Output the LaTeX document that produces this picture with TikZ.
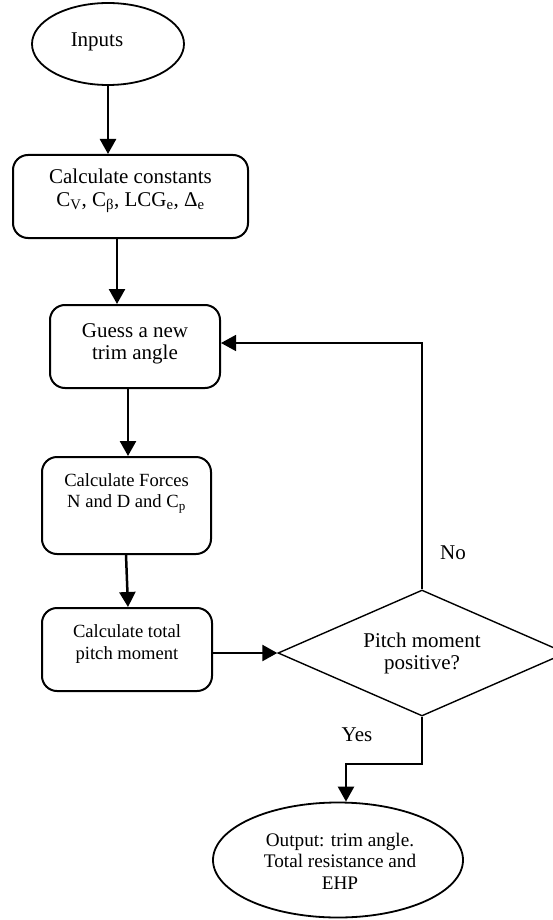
\documentclass[tikz,border=0pt]{standalone}
\usepackage{fontspec}
\setmainfont{Liberation Serif}
\usetikzlibrary{shapes.geometric,arrows.meta}
\tikzset{
  every node/.style={inner sep=0pt},
  oval/.style={draw,ellipse,line width=1.8pt},
  rbox/.style={draw,rectangle,rounded corners=15pt,line width=2pt},
  dia/.style={draw,diamond,line width=1.4pt},
  arr/.style={line width=2.5pt,-{Triangle[length=15pt,width=16pt]}},
  farr/.style={line width=1.6pt,-{Triangle[length=15pt,width=16pt]}},
  thinline/.style={line width=1.5pt},
  big/.style={font=\fontsize{21}{22.5}\selectfont,align=center},
  mid/.style={font=\fontsize{18.6}{21.5}\selectfont,align=center},
  outf/.style={font=\fontsize{19.2}{21.5}\selectfont,align=center},
}
\begin{document}
\begin{tikzpicture}[x=1pt,y=-1pt]
\useasboundingbox (0,0) rectangle (553,920);
% shapes
\node[oval,minimum width=152pt,minimum height=82pt] (inputs) at (108,44) {};
\node[big] (inputsT) at (97,42) {Inputs};
\node[rbox,minimum width=235pt,minimum height=83pt] (const) at (130.5,196.5) {};
\node[big] (constT) at (130.5,191) {Calculate constants\\C\textsubscript{V}, C\textsubscript{β}, LCG\textsubscript{e}, Δ\textsubscript{e}};
\node[rbox,minimum width=170pt,minimum height=83pt] (guess) at (135,346.5) {};
\node[big] (guessT) at (135,344) {Guess a new\\trim angle};
\node[rbox,minimum width=169pt,minimum height=97pt] (forces) at (126.5,505.5) {};
\node[mid] (forcesT) at (126.5,493) {Calculate Forces\\N and D and C\textsubscript{p}};
\node[rbox,minimum width=170pt,minimum height=83pt] (total) at (127,649.5) {};
\node[mid] (totalT) at (127,644) {Calculate total\\pitch moment};
\node[dia,minimum width=288pt,minimum height=126pt] (pm) at (422,653) {};
\node[big] (pmT) at (422,653.5) {Pitch moment\\positive?};
\node[oval,minimum width=250pt,minimum height=115pt] (out) at (338,860) {};
\node[outf] (outT) at (340,861) {Output: trim angle.\\Total resistance and\\EHP};
\node[big] (yes) at (357,735) {Yes};
\node[big] (no) at (453,553) {No};
% connectors
\draw[arr] (inputs.south) -- (inputs.south |- const.north);
\draw[arr] (const.south -| 117,0) -- (guess.north -| 117,0);
\draw[arr] (guess.south -| 128,0) -- (forces.north -| 128,0);
\draw[arr] (forces.south -| 126,0) -- (total.north -| 128,0);
\draw[arr] (pm.west -| total.east) -- (pm.west);
\coordinate (gE) at ([yshift=3.5pt]guess.east);
\draw[farr] (pm.north) -- (pm.north |- gE) -- (gE);
\coordinate (yb) at (422,764);
\draw[thinline] (pm.south) -- (yb) -- (346,764);
\draw[arr] (346,763.3) -- (out.north -| 346,0);
\end{tikzpicture}
\end{document}
